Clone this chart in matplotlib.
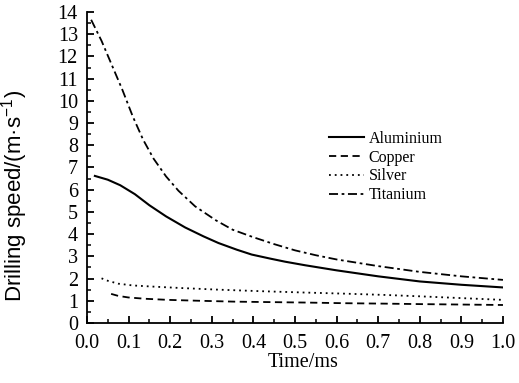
import numpy as np
import matplotlib.pyplot as plt
from matplotlib.ticker import MultipleLocator

plt.rcParams['font.family'] = ['Liberation Serif', 'DejaVu Serif']
plt.rcParams['mathtext.fontset'] = 'custom'
plt.rcParams['mathtext.rm'] = 'Liberation Sans'
plt.rcParams['mathtext.default'] = 'regular'

# values (time in ms, speed in m/s)
t_ti = [0.01, 0.035, 0.06, 0.085, 0.11, 0.135, 0.16, 0.19, 0.22, 0.26, 0.31, 0.35,
        0.40, 0.45, 0.50, 0.55, 0.60, 0.70, 0.80, 0.90, 1.0]
v_ti = [13.65, 12.7, 11.6, 10.5, 9.3, 8.25, 7.4, 6.6, 5.95, 5.25, 4.62, 4.2,
        3.86, 3.55, 3.27, 3.05, 2.86, 2.56, 2.3, 2.1, 1.94]

t_al = [0.019, 0.05, 0.08, 0.115, 0.15, 0.19, 0.236, 0.28, 0.316, 0.36, 0.396, 0.44,
        0.476, 0.524, 0.60, 0.70, 0.80, 0.90, 1.0]
v_al = [6.62, 6.45, 6.2, 5.8, 5.3, 4.8, 4.3, 3.9, 3.6, 3.3, 3.08, 2.9,
        2.76, 2.6, 2.37, 2.1, 1.87, 1.72, 1.6]

t_ag = [0.035, 0.05, 0.075, 0.11, 0.156, 0.23, 0.316, 0.42, 0.524, 0.62, 0.72, 0.80, 0.90, 1.0]
v_ag = [2.01, 1.9, 1.77, 1.69, 1.64, 1.57, 1.5, 1.43, 1.37, 1.32, 1.26, 1.2, 1.12, 1.04]

t_cu = [0.058, 0.075, 0.099, 0.14, 0.195, 0.27, 0.356, 0.44, 0.524, 0.62, 0.72, 0.80, 0.90, 1.0]
v_cu = [1.31, 1.22, 1.15, 1.09, 1.04, 1.0, 0.96, 0.94, 0.92, 0.89, 0.87, 0.85, 0.83, 0.81]

fig = plt.figure(figsize=(5.19, 3.83), dpi=100)
ax = fig.add_axes([0.1676, 0.1567, 0.8015, 0.812])

ax.plot(t_al, v_al, color='black', linestyle='-', linewidth=1.5, label='Aluminium')
ax.plot(t_cu, v_cu, color='black', linestyle=(0, (4, 2.5)), linewidth=1.3, label='Copper')
ax.plot(t_ag, v_ag, color='black', linestyle=(0, (1, 2.2)), linewidth=1.3, label='Silver')
ax.plot(t_ti, v_ti, color='black', linestyle=(0, (5, 2, 1.5, 2)), linewidth=1.3, label='Titanium')

ax.set_xlim(0, 1.0)
ax.set_ylim(0, 14)
ax.xaxis.set_major_locator(MultipleLocator(0.1))
ax.xaxis.set_minor_locator(MultipleLocator(0.05))
ax.yaxis.set_major_locator(MultipleLocator(1))
ax.yaxis.set_minor_locator(MultipleLocator(0.5))
ax.xaxis.set_major_formatter(plt.FormatStrFormatter('%.1f'))

ax.spines['top'].set_visible(False)
ax.spines['right'].set_visible(False)
for s in ['left', 'bottom']:
    ax.spines[s].set_linewidth(1.3)
ax.tick_params(which='major', direction='in', length=5, width=1.3, labelsize=14.5)
ax.tick_params(axis='x', which='major', pad=8)
ax.tick_params(axis='y', which='major', pad=6.5)
ax.tick_params(which='minor', direction='in', length=3, width=1.1)

ax.set_xlabel('Time/ms', fontsize=14.5)
ax.xaxis.set_label_coords(0.519, -0.098)
ax.set_ylabel('Drilling speed/(m·s$^{-1}$)', fontsize=16, family='Liberation Sans')
ax.yaxis.set_label_coords(-0.136, 0.408)

ax.legend(loc='upper left', bbox_to_anchor=(0.562, 0.644), frameon=False, fontsize=11.5,
          handlelength=2.2, handletextpad=0.3, labelspacing=0.18, borderpad=0)

fig.savefig('out.png', dpi=100)
